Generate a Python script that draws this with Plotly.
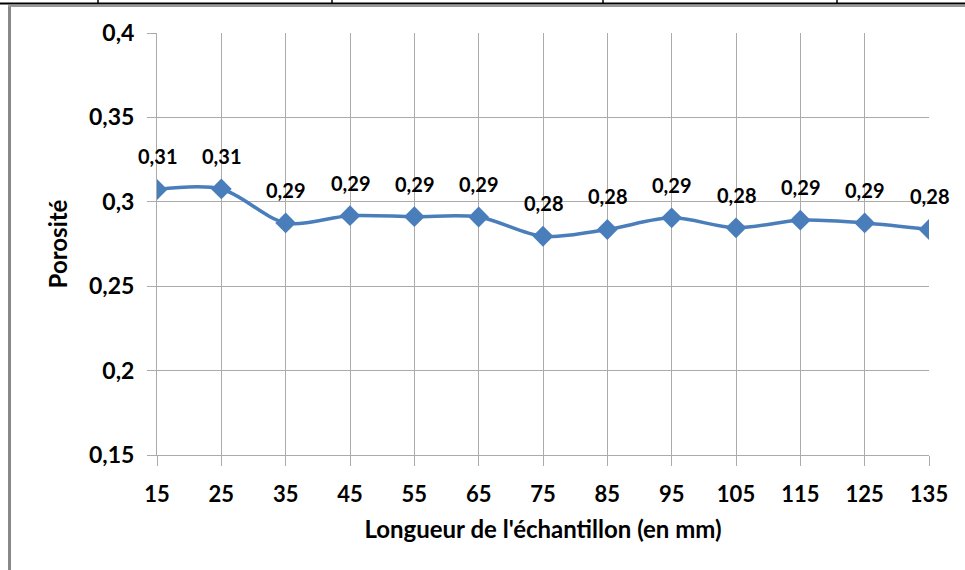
import plotly.graph_objects as go

# Data
longueur = [15, 25, 35, 45, 55, 65, 75, 85, 95, 105, 115, 125, 135]
porosite = [0.3073, 0.3076, 0.2875, 0.2918, 0.2912, 0.2910, 0.2796,
            0.2836, 0.2905, 0.2846, 0.2891, 0.2875, 0.2836]
y_ticks = [0.15, 0.2, 0.25, 0.3, 0.35, 0.4]

W, H = 965, 570
L, R, T, B = 157, 36, 33, 115
FONT = "Lato"
GRID = "#ababab"
BLUE = "#4a7ebb"

def fmt(v):
    return f"{v:.2f}".replace(".", ",")

fig = go.Figure()
fig.add_trace(go.Scatter(
    x=longueur, y=porosite, mode="lines+markers",
    line=dict(color=BLUE, width=3.5, shape="spline", smoothing=0.9),
    marker=dict(symbol="diamond", size=16, color=BLUE),
    hoverinfo="x+y", showlegend=False,
))

annotations = [
    dict(x=xv, y=yv, text=fmt(yv), showarrow=False, yshift=33,
         font=dict(family=FONT, size=20, color="black", weight="bold"))
    for xv, yv in zip(longueur, porosite)
]

def px_x(p):
    return (p - L) / (W - L - R)

def px_y(p):
    return (H - B - p) / (H - T - B)

shapes = [
    # grey chart frame (left + top)
    dict(type="line", xref="paper", yref="paper", x0=px_x(9.5), x1=px_x(9.5),
         y0=px_y(5), y1=px_y(H + 5), line=dict(color="#888888", width=3)),
    dict(type="line", xref="paper", yref="paper", x0=px_x(8), x1=px_x(W + 5),
         y0=px_y(6), y1=px_y(6), line=dict(color="#999999", width=2)),
    # black top line of surrounding table
    dict(type="line", xref="paper", yref="paper", x0=px_x(-5), x1=px_x(W + 5),
         y0=px_y(3.5), y1=px_y(3.5), line=dict(color="black", width=2)),
]
for cx in [98, 332, 603, 837]:
    shapes.append(dict(type="line", xref="paper", yref="paper", x0=px_x(cx), x1=px_x(cx),
                       y0=px_y(-2), y1=px_y(4), line=dict(color="black", width=1.5)))

fig.update_layout(
    width=W, height=H,
    margin=dict(l=L, r=R, t=T, b=B, autoexpand=False),
    paper_bgcolor="white", plot_bgcolor="white",
    separators=", ",
    font=dict(family=FONT, color="black"),
    annotations=annotations,
    shapes=shapes,
    xaxis=dict(
        range=[15, 135], tickvals=longueur, ticktext=[str(v) for v in longueur],
        showgrid=True, gridcolor=GRID, gridwidth=1,
        showline=True, linecolor=GRID, linewidth=1,
        ticks="outside", ticklen=10, tickcolor=GRID, tickwidth=1,
        tickfont=dict(family=FONT, size=22, color="black", weight="bold"),
        ticklabelstandoff=10,
        zeroline=False,
        title=dict(text="Longueur de l'échantillon (en mm)", standoff=14,
                   font=dict(family=FONT, size=24, color="black", weight="bold")),
    ),
    yaxis=dict(
        range=[0.15, 0.4], tickvals=y_ticks, tickformat=".2~f",
        showgrid=True, gridcolor=GRID, gridwidth=1,
        showline=True, linecolor=GRID, linewidth=1,
        ticks="outside", ticklen=9, tickcolor=GRID, tickwidth=1,
        tickfont=dict(family=FONT, size=23, color="black", weight="bold"),
        ticklabelstandoff=8,
        zeroline=False,
        title=dict(text="Porosité", standoff=14,
                   font=dict(family=FONT, size=24, color="black", weight="bold")),
    ),
)

fig.write_html("out.html", config={"displayModeBar": False},
               post_script="document.body.style.margin='0px';")
